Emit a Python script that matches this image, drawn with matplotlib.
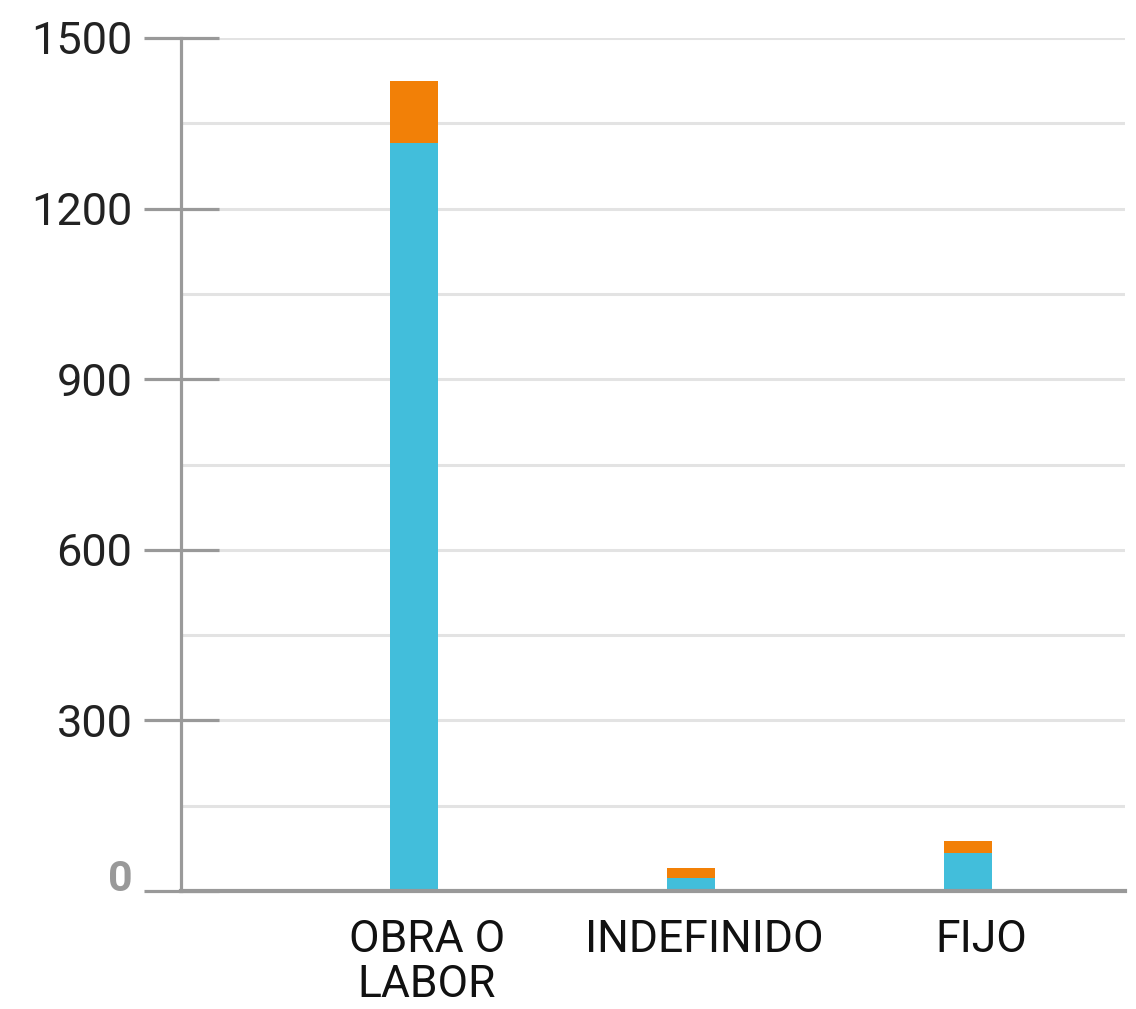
import matplotlib
matplotlib.use("Agg")
import matplotlib.pyplot as plt
import matplotlib.transforms as mtransforms
import numpy as np

categories = ["OBRA O\nLABOR", "INDEFINIDO", "FIJO"]
serie_azul = [1315, 23, 67]
serie_naranja = [110, 17, 21]
yticks = [0, 300, 600, 900, 1200, 1500]
yminor = [150, 450, 750, 1050, 1350]

plt.rcParams['font.family'] = ['Roboto', 'DejaVu Sans']

fig = plt.figure(figsize=(11.36, 10.09), dpi=100)
ax = fig.add_axes([181/1136, 1 - 891/1009, (1125-181)/1136, (891-38)/1009])

x = np.arange(len(categories))
w = 0.173
ax.bar(x, serie_azul, width=w, color="#42BEDB", zorder=3)
ax.bar(x, serie_naranja, width=w, bottom=serie_azul, color="#F28007", zorder=3)

ax.set_xlim(-0.84, 2.567)
ax.set_ylim(0, 1500)

ax.set_yticks(yticks)
ax.set_yticks(yminor, minor=True)
ax.set_yticklabels([str(v) for v in yticks])
ax.grid(axis='y', which='both', color="#e3e3e3", linewidth=2.2, zorder=0)
ax.tick_params(axis='y', which='major', direction='inout', length=54, width=2.3,
               color="#999999", labelsize=32.5, labelcolor="#222222", pad=8)
ax.tick_params(axis='y', which='minor', length=0)
ax.set_xticks(x)
ax.set_xticklabels(categories, fontsize=32, color="#111111", linespacing=1.1)
ax.tick_params(axis='x', length=0, pad=20)

for s in ['top', 'right']:
    ax.spines[s].set_visible(False)
ax.spines['left'].set_color("#9a9a9a")
ax.spines['left'].set_linewidth(2.3)
ax.spines['bottom'].set_color("#999999")
ax.spines['bottom'].set_linewidth(3)
ax.spines['left'].set_zorder(4)
ax.spines['bottom'].set_zorder(4)

fig.canvas.draw()
shift = mtransforms.ScaledTranslation(13/100, 0, fig.dpi_scale_trans)
for lbl in ax.get_xticklabels():
    lbl.set_transform(lbl.get_transform() + shift)
lbl0 = ax.get_yticklabels()[0]
lbl0.set_color("#999999")
lbl0.set_fontweight('bold')
lbl0.set_fontsize(31)
lbl0.set_verticalalignment('baseline')

fig.savefig("out.png", dpi=100)
